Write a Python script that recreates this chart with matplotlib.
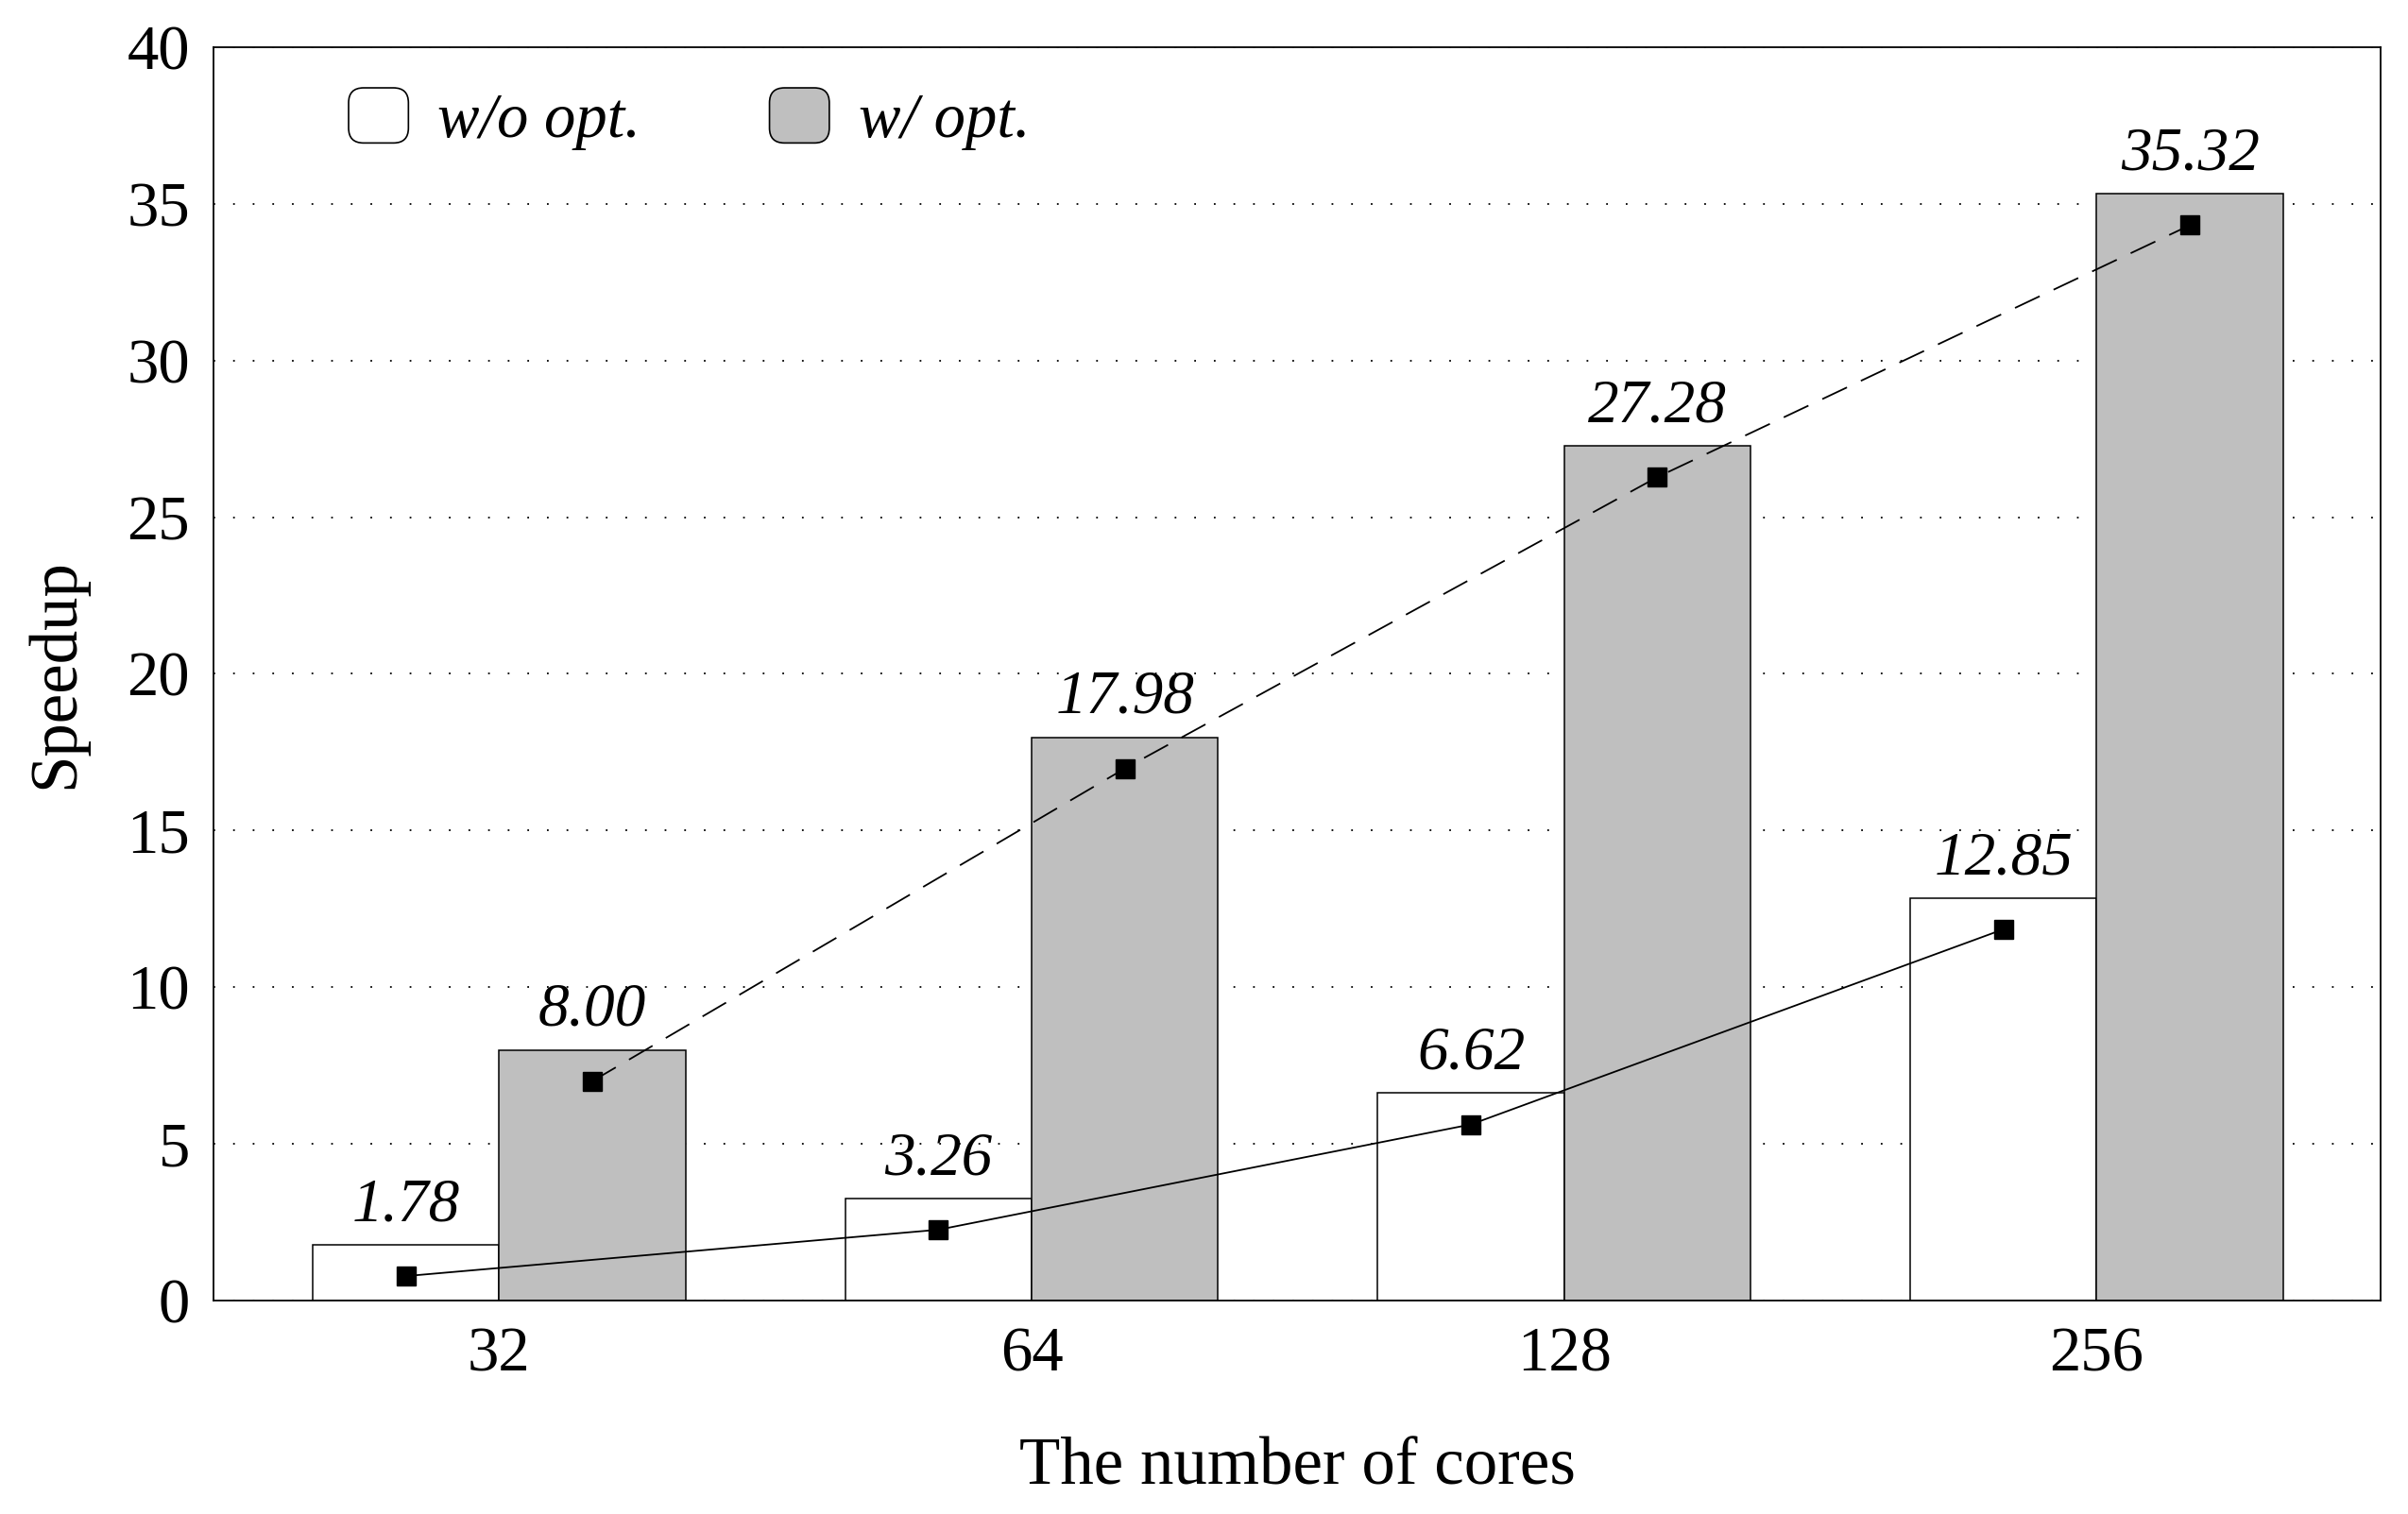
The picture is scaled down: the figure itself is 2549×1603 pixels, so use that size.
import numpy as np
import matplotlib
matplotlib.use('Agg')
import matplotlib.pyplot as plt
from matplotlib.patches import FancyBboxPatch, Patch
from matplotlib.legend_handler import HandlerPatch

# Data
cores = ['32', '64', '128', '256']
speedup_wo = [1.78, 3.26, 6.62, 12.85]
speedup_w = [8.00, 17.98, 27.28, 35.32]
# markers sit slightly below the bar tops
line_wo = [0.78, 2.26, 5.62, 11.85]
line_w = [7.00, 16.98, 26.28, 34.32]

plt.rcParams['font.family'] = ['Liberation Serif', 'DejaVu Serif']


class RoundBoxHandler(HandlerPatch):
    # rounded legend boxes like the original
    def create_artists(self, legend, orig_handle, xdescent, ydescent,
                       width, height, fontsize, trans):
        p = FancyBboxPatch((-xdescent, -ydescent), width, height,
                           boxstyle='round,pad=0,rounding_size=%f' % (0.25 * width),
                           facecolor=orig_handle.get_facecolor(),
                           edgecolor='black', linewidth=1.2, transform=trans)
        return [p]


fig = plt.figure(figsize=(25.49, 16.03), dpi=100)
ax = fig.add_axes([0.0887, 0.141, 0.8999, 0.8278])

x = np.arange(len(cores))
w = 0.35

ax.bar(x - w / 2, speedup_wo, w, color='white', edgecolor='black', linewidth=1.1, zorder=2)
ax.bar(x + w / 2, speedup_w, w, color='#bfbfbf', edgecolor='black', linewidth=1.1, zorder=2)

ax.plot(x - w / 2, line_wo, color='black', linewidth=1.3, marker='s', markersize=15, zorder=3)
ax.plot(x + w / 2, line_w, color='black', linewidth=1.3, marker='s', markersize=15,
        dashes=(16, 9), zorder=3)

# value labels
for xi, v in zip(x - w / 2, speedup_wo):
    ax.text(xi, v + 0.35, '%.2f' % v, ha='center', va='bottom', fontsize=47, style='italic')
for xi, v in zip(x + w / 2, speedup_w):
    ax.text(xi, v + 0.35, '%.2f' % v, ha='center', va='bottom', fontsize=47, style='italic')

ax.set_xlim(-0.536, 3.533)
ax.set_ylim(0, 40)
ax.set_yticks(range(0, 41, 5))
ax.set_xticks(x)
ax.set_xticklabels(cores)
ax.tick_params(axis='both', length=0, labelsize=48)
ax.tick_params(axis='x', pad=20)
ax.tick_params(axis='y', pad=18)

ax.yaxis.grid(True, linestyle=(0, (1.0, 10.5)), linewidth=1.3, color='black', zorder=0)
ax.set_axisbelow(True)
for s in ax.spines.values():
    s.set_linewidth(1.3)

ax.set_xlabel('The number of cores', fontsize=51, labelpad=40)
ax.set_ylabel('Speedup', fontsize=51, labelpad=30)

handles = [Patch(facecolor='white'), Patch(facecolor='#bfbfbf')]
ax.legend(handles, ['w/o opt.', 'w/ opt.'], loc='center left',
          bbox_to_anchor=(0.0623, 0.9427), ncol=2, frameon=False,
          prop={'size': 48, 'style': 'italic'},
          handlelength=0.95, handleheight=0.97, handletextpad=0.46,
          columnspacing=2.05, borderpad=0, borderaxespad=0,
          handler_map={Patch: RoundBoxHandler()})

fig.savefig('out.png', dpi=100)
